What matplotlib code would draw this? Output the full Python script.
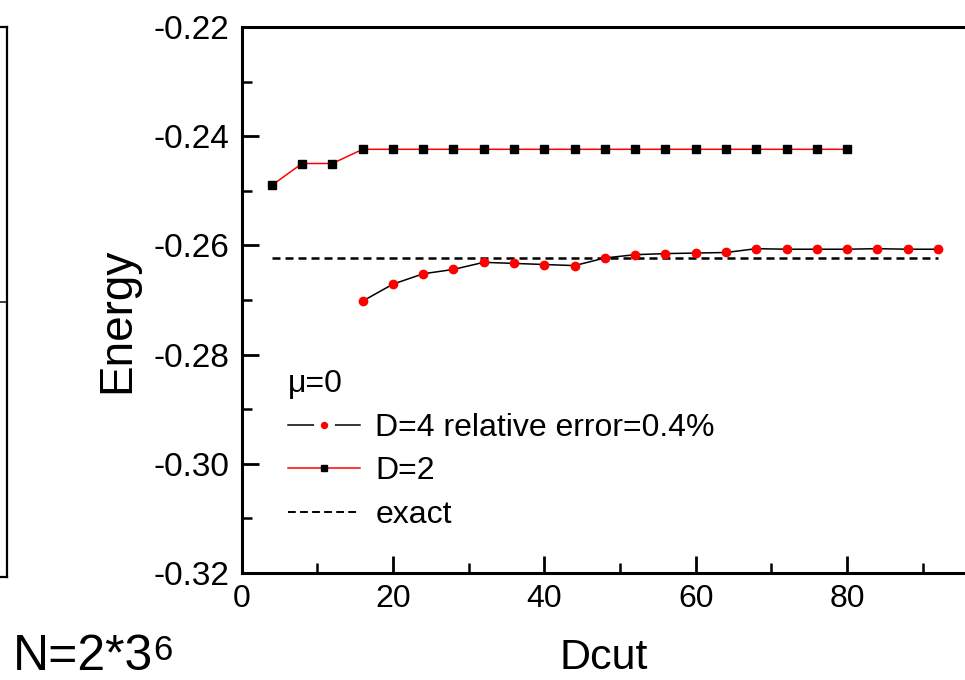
import numpy as np
import matplotlib.pyplot as plt
from matplotlib.lines import Line2D
from matplotlib.legend_handler import HandlerTuple

plt.rcParams['font.family'] = ['Liberation Sans', 'DejaVu Sans']

# D=2: energy vs Dcut
dcut_d2 = [4, 8, 12, 16, 20, 24, 28, 32, 36, 40, 44, 48, 52, 56, 60, 64, 68, 72, 76, 80]
energy_d2 = [-0.2490, -0.2450, -0.2450, -0.2424, -0.2424, -0.2424, -0.2424, -0.2424,
             -0.2424, -0.2424, -0.2424, -0.2424, -0.2424, -0.2424, -0.2424, -0.2424,
             -0.2424, -0.2424, -0.2424, -0.2424]

# D=4: energy vs Dcut
dcut_d4 = [16, 20, 24, 28, 32, 36, 40, 44, 48, 52, 56, 60, 64, 68, 72, 76, 80, 84, 88, 92]
energy_d4 = [-0.2702, -0.2671, -0.2652, -0.2644, -0.2631, -0.2633, -0.2635, -0.2637,
             -0.2623, -0.2617, -0.2615, -0.2614, -0.2613, -0.2606, -0.2607, -0.2607,
             -0.2607, -0.2606, -0.2607, -0.2607]

# exact result
exact_dcut = [4, 92]
exact_energy = [-0.2623, -0.2623]

x_ticks = [0, 20, 40, 60, 80]
y_ticks = [-0.32, -0.30, -0.28, -0.26, -0.24, -0.22]

#%% figure
fig = plt.figure(figsize=(9.65, 6.8), dpi=100)

# edge of the neighbouring panel (cut off at the left)
ax0 = fig.add_axes([-0.5, 1 - 577 / 680, 0.5 + 7 / 965, 550 / 680])
ax0.set_xlim(0, 1)
ax0.set_ylim(0, 1)
ax0.axhline(0.5, color='0.25', lw=1.4)
ax0.set_xticks([])
ax0.set_yticks([])
ax0.spines['left'].set_visible(False)
for s in ['right', 'top', 'bottom']:
    ax0.spines[s].set_linewidth(1.6)

# main panel, its right edge runs past the picture
ax = fig.add_axes([241.5 / 965, 1 - 573 / 680, 757 / 965, 546 / 680])

ax.plot(dcut_d4, energy_d4, color='black', lw=1.1, marker='o', ms=6,
        mfc='red', mec='red', zorder=3)
ax.plot(dcut_d2, energy_d2, color='red', lw=1.1, marker='s', ms=5.8,
        mfc='black', mec='black', zorder=3)
ax.plot(exact_dcut, exact_energy, color='black', lw=1.8, dashes=(3.2, 2), zorder=2)

ax.set_xlim(0, 100)
ax.set_ylim(-0.32, -0.22)
ax.set_xticks(x_ticks)
ax.set_xticks(np.arange(10, 100, 20), minor=True)
ax.set_yticks(y_ticks)
ax.set_yticks(np.arange(-0.31, -0.22, 0.02), minor=True)
ax.set_yticklabels([f'{v:.2f}' for v in y_ticks], fontsize=24)
ax.set_xticklabels([str(v) for v in x_ticks], fontsize=23)

ax.tick_params(which='major', direction='in', length=12, width=2, top=False, right=False)
ax.tick_params(which='minor', direction='in', length=7, width=1.8, top=False, right=False)
ax.tick_params(axis='y', pad=9)
ax.tick_params(axis='x', pad=8)

ax.spines['right'].set_visible(False)
for s in ['left', 'top', 'bottom']:
    ax.spines[s].set_linewidth(2.2)

ax.set_xlabel('Dcut', fontsize=31)
ax.xaxis.set_label_coords(0.479, -0.119)
ax.set_ylabel('Energy', fontsize=33)
ax.yaxis.set_label_coords(-0.135, 0.463)

# legend
h_d4 = (Line2D([], [], color='black', lw=1.1, marker='o', ms=14, mfc='white', mec='white'),
        Line2D([], [], ls='none', marker='o', ms=4.3, mfc='red', mec='red'))
h_d2 = Line2D([], [], color='red', lw=1.1, marker='s', ms=4.3, mfc='black', mec='black')
h_ex = Line2D([], [], color='black', lw=1.4, dashes=(4, 2.2))
leg = ax.legend([h_d4, h_d2, h_ex], ['D=4 relative error=0.4%', 'D=2', 'exact'],
                handler_map={tuple: HandlerTuple(ndivide=1)},
                title='μ=0', loc='lower left', bbox_to_anchor=(0.045, 0.055),
                frameon=False, fontsize=23, title_fontsize=23, handlelength=2.25,
                handletextpad=0.47, labelspacing=0.43, alignment='left',
                borderaxespad=0)

fig.text(13 / 965, 1 - 670 / 680, 'N=2*3', fontsize=36, ha='left', va='baseline')
fig.text(153 / 965, 1 - 660 / 680, '6', fontsize=25, ha='left', va='baseline')

fig.savefig('out.png', dpi=100)
